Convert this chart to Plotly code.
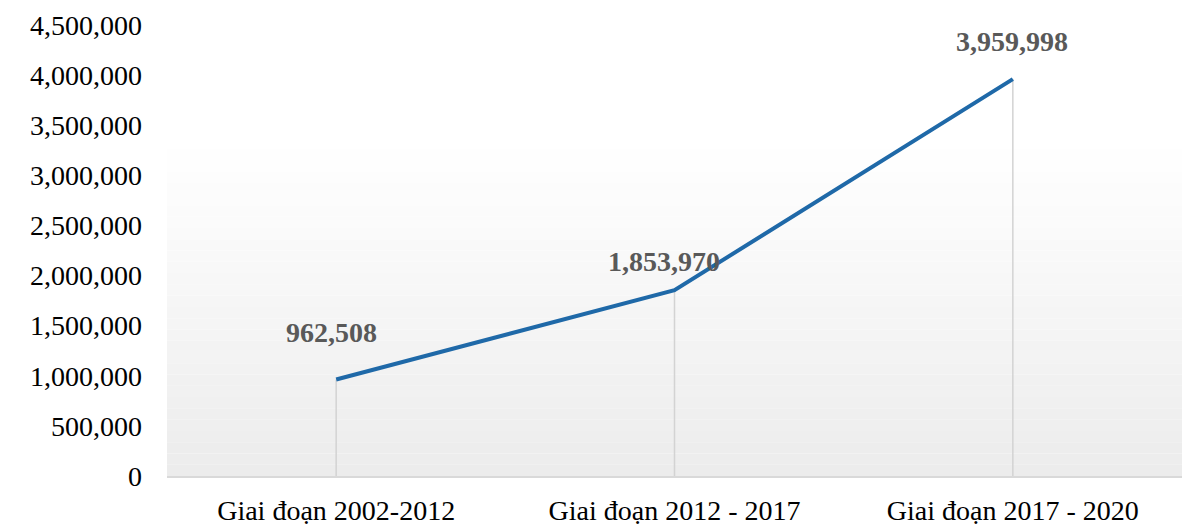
import plotly.graph_objects as go

# Data
periods = ["Giai đoạn 2002-2012", "Giai đoạn 2012 - 2017", "Giai đoạn 2017 - 2020"]
values = [962508, 1853970, 3959998]
y_ticks = [0, 500000, 1000000, 1500000, 2000000, 2500000, 3000000, 3500000, 4000000, 4500000]

LINE_BLUE = "#1f69a8"
DROP_GRAY = "#d3d3d3"
LABEL_GRAY = "#595959"
SERIF = "Liberation Serif, Times New Roman, serif"

fig = go.Figure()

# drop lines from each point to the axis
for p, v in zip(periods, values):
    fig.add_trace(go.Scatter(
        x=[p, p], y=[0, v], mode="lines",
        line=dict(color=DROP_GRAY, width=1.5),
        hoverinfo="skip", showlegend=False,
    ))

fig.add_trace(go.Scatter(
    x=periods, y=values, mode="lines",
    line=dict(color=LINE_BLUE, width=4),
    showlegend=False,
))

# value labels above the points
label_shift = [(-5, 47), (-11, 29), (-1, 38)]
for p, v, (dx, dy) in zip(periods, values, label_shift):
    fig.add_annotation(
        x=p, y=v, text=f"{v:,}", showarrow=False,
        xshift=dx, yshift=dy,
        font=dict(family=SERIF, size=28, color=LABEL_GRAY, weight="bold"),
    )

# soft vertical gradient behind the plot area
n_bands = 40
for i in range(n_bands):
    frac = i / n_bands
    g = round(236 + (255 - 236) * min(1.0, frac / 0.72))
    fig.add_shape(
        type="rect", xref="paper", yref="paper",
        x0=0, x1=1, y0=frac, y1=(i + 1) / n_bands,
        fillcolor=f"rgb({g},{g},{g})", line_width=0, layer="below",
    )

# the page body adds a small offset, so the figure is a bit smaller than the window
fig.update_layout(
    width=1192, height=519,
    margin=dict(l=159, r=18, t=17, b=51),
    paper_bgcolor="white", plot_bgcolor="white",
    font=dict(family=SERIF, size=28, color="black"),
)
fig.update_xaxes(
    type="category", range=[-0.5, 2.5], automargin=False,
    showgrid=False, showline=True, linecolor="#d9d9d9", linewidth=2,
    ticks="", ticklabelstandoff=8,
    tickfont=dict(family=SERIF, size=28, color="black"),
)
fig.update_yaxes(
    range=[0, 4500000], tickvals=y_ticks, tickformat=",d", automargin=False,
    showgrid=False, zeroline=False, showline=False,
    ticks="", ticklabelstandoff=24,
    tickfont=dict(family=SERIF, size=28, color="black"),
)

fig.write_html("out.html")
